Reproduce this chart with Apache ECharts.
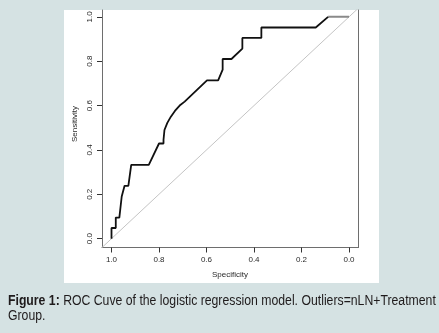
<!DOCTYPE html>
<html>
<head>
<meta charset="utf-8">
<script src="https://cdn.jsdelivr.net/npm/echarts@6/dist/echarts.min.js"></script>
<style>
  html, body { margin: 0; padding: 0; background: #d5e2e3; }
  #chart { width: 439px; height: 333px; }
</style>
</head>
<body>
<div id="chart"></div>
<script>
// ROC curve: specificity (x, reversed) vs sensitivity (y)
const specificity = [1.0, 1.0, 0.982, 0.982, 0.967, 0.957, 0.945, 0.929, 0.917, 0.843, 0.800, 0.781,
  0.781, 0.777, 0.765, 0.750, 0.733, 0.713, 0.692, 0.598, 0.551, 0.532, 0.532, 0.495, 0.449,
  0.449, 0.369, 0.369, 0.140, 0.088];
const sensitivity = [0.0, 0.048, 0.048, 0.095, 0.095, 0.190, 0.238, 0.238, 0.333, 0.333, 0.429, 0.429,
  0.446, 0.490, 0.522, 0.550, 0.576, 0.600, 0.618, 0.714, 0.714, 0.762, 0.810, 0.810, 0.857,
  0.905, 0.905, 0.952, 0.952, 1.0];
// tail of the curve after the last threshold
const tailSpec = [0.088, 0.0];
const tailSens = [1.0, 1.0];
// chance line
const chanceSpec = [1.04, -0.04];
const chanceSens = [-0.04, 1.04];
const tickValues = [0, 0.2, 0.4, 0.6, 0.8, 1.0];

const zip = (a, b) => a.map((v, i) => [v, b[i]]);
const fmt = v => v.toFixed(1);

const chart = echarts.init(document.getElementById('chart'), null, { renderer: 'canvas' });

const axisColor = '#6e6e6e';
const labelStyle = { fontFamily: 'Liberation Sans, Arial, sans-serif', fontSize: 8, color: '#2a2a2a' };

chart.setOption({
  backgroundColor: '#d5e2e3',
  animation: false,
  grid: { left: 102, right: 80.5, top: 10, bottom: 85.5, containLabel: false },
  xAxis: {
    type: 'value', inverse: true, min: -0.04, max: 1.04,
    splitLine: { show: false },
    axisLine: { show: true, onZero: false, lineStyle: { color: axisColor, width: 1 } },
    axisTick: { show: true, customValues: tickValues, length: 5, lineStyle: { color: '#333' } },
    axisLabel: { show: true, customValues: tickValues, formatter: fmt, margin: 8, ...labelStyle },
    minorTick: { show: false }
  },
  yAxis: [{
    type: 'value', min: -0.04, max: 1.031,
    splitLine: { show: false },
    axisLine: { show: true, onZero: false, lineStyle: { color: axisColor, width: 1 } },
    axisTick: { show: true, customValues: tickValues, length: 5, lineStyle: { color: '#333' } },
    axisLabel: { show: true, customValues: tickValues, formatter: fmt, rotate: 90, margin: 8, ...labelStyle }
  }, {
    type: 'value', position: 'right', min: -0.04, max: 1.031,
    splitLine: { show: false },
    axisLine: { show: true, onZero: false, lineStyle: { color: axisColor, width: 1 } },
    axisTick: { show: false }, axisLabel: { show: false }
  }],
  graphic: [
    { type: 'rect', z: -100, silent: true, shape: { x: 64, y: 10, width: 315, height: 273 }, style: { fill: '#ffffff' } },
    { type: 'text', x: 230, y: 275, silent: true,
      style: { text: 'Specificity', align: 'center', verticalAlign: 'middle', fill: '#2a2a2a', font: '8px "Liberation Sans", Arial, sans-serif' } },
    { type: 'text', x: 75, y: 124, rotation: Math.PI / 2, silent: true,
      style: { text: 'Sensitivity', align: 'center', verticalAlign: 'middle', fill: '#2a2a2a', font: '8px "Liberation Sans", Arial, sans-serif' } },
    { type: 'text', x: 8, y: 294, silent: true, scaleX: 0.875,
      style: {
        text: '{b|Figure 1:} ROC Cuve of the logistic regression model. Outliers=nLN+Treatment\nGroup.',
        fill: '#1f1b1c', font: '14px "Liberation Sans", Arial, sans-serif', lineHeight: 15,
        rich: { b: { fontWeight: 'bold', fontSize: 14, fontFamily: 'Liberation Sans, Arial, sans-serif', fill: '#1f1b1c' } }
      } }
  ],
  series: [
    {
      type: 'line', data: zip(chanceSpec, chanceSens), symbol: 'none', clip: true, silent: true,
      lineStyle: { color: '#c4c4c4', width: 1 }, z: 1
    },
    {
      type: 'line', data: zip(tailSpec, tailSens), symbol: 'none', clip: true, silent: true,
      lineStyle: { color: '#8a8a8a', width: 2 }, z: 2
    },
    {
      type: 'line', data: zip(specificity, sensitivity), symbol: 'none', clip: true, silent: true,
      lineStyle: { color: '#111', width: 1.8 }, z: 3
    }
  ]
});
</script>
</body>
</html>
